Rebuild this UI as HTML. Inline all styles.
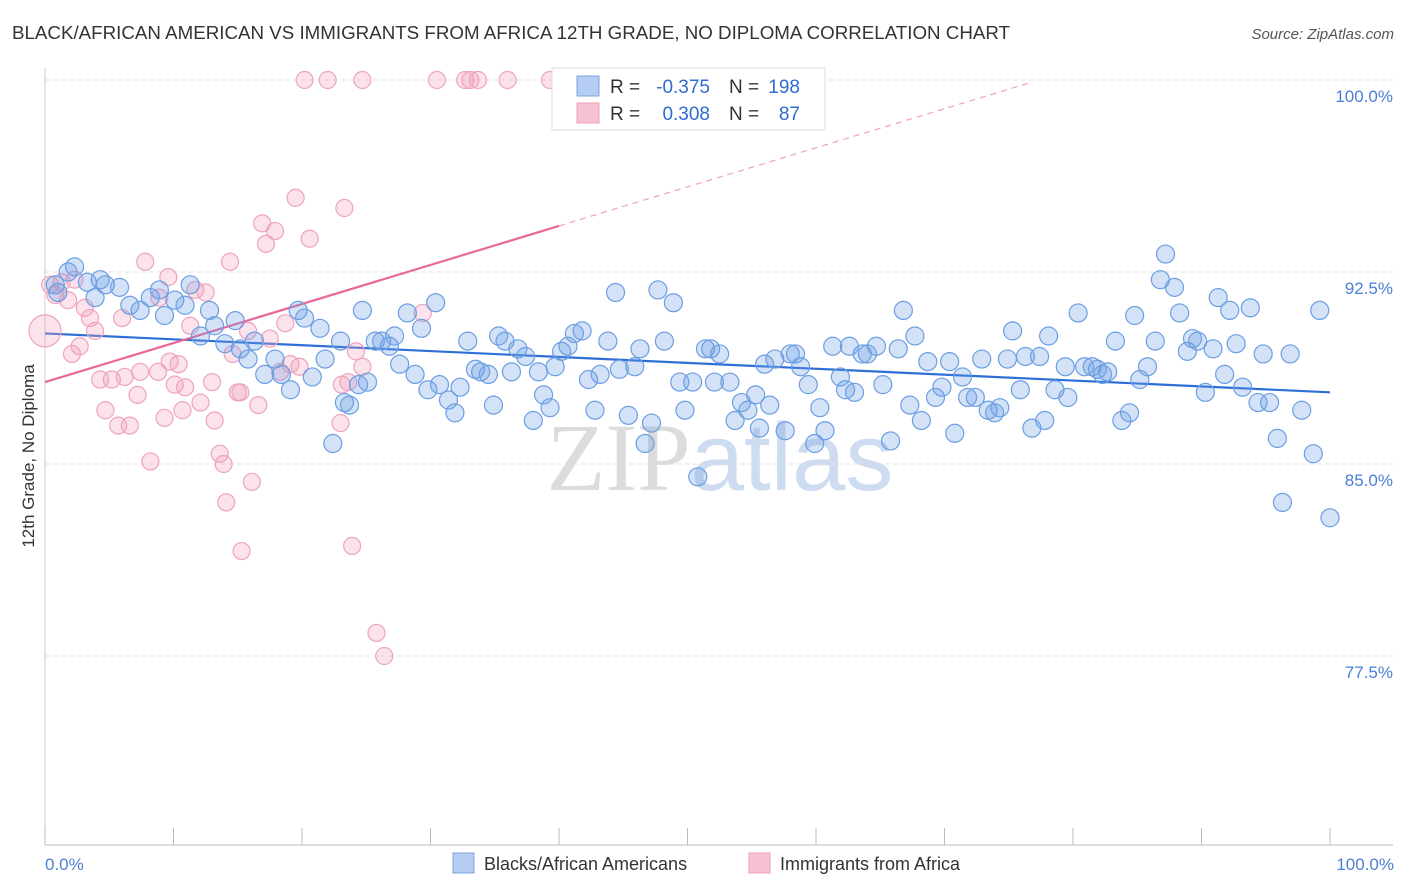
<!DOCTYPE html>
<html><head><meta charset="utf-8">
<style>
body{margin:0;background:#fff;font-family:"Liberation Sans",sans-serif;}
svg{display:block}
</style></head>
<body>
<svg id="chart" width="1406" height="892" xmlns="http://www.w3.org/2000/svg">
<text x="12" y="39" font-size="18" textLength="998" lengthAdjust="spacingAndGlyphs" fill="#333" font-family="Liberation Sans">BLACK/AFRICAN AMERICAN VS IMMIGRANTS FROM AFRICA 12TH GRADE, NO DIPLOMA CORRELATION CHART</text>
<text x="1394" y="39" font-size="15" fill="#555" font-style="italic" text-anchor="end">Source: ZipAtlas.com</text>
<text x="720" y="490" font-size="96" fill="#dfe6ef" text-anchor="middle" font-family="Liberation Serif"><tspan fill="#dcdcdc">ZIP</tspan><tspan fill="#cddcf0" font-family="Liberation Sans">atlas</tspan></text>
<g id="grid"></g>
<g id="axes"></g>
<g id="trends"></g>
<g id="pink-points"></g>
<g id="blue-points"></g>
<text transform="translate(34,456) rotate(-90)" font-size="17" fill="#333" text-anchor="middle">12th Grade, No Diploma</text>
<text x="45" y="870" font-size="17" fill="#4a7fd4">0.0%</text>
<text x="1394" y="870" font-size="17" fill="#4a7fd4" text-anchor="end">100.0%</text>
<g>
<rect x="552" y="68" width="273" height="62" fill="#fff" stroke="#ddd"/>
<rect x="577" y="76" width="22" height="20" fill="#b5cdf2" stroke="#7aa3e0"/>
<rect x="577" y="103" width="22" height="20" fill="#f7c3d3" stroke="#eca0b8"/>
<text x="610" y="93" font-size="19" fill="#333">R = </text>
<text x="710" y="93" font-size="19" fill="#2f6bd0" text-anchor="end">-0.375</text>
<text x="729" y="93" font-size="19" fill="#333">N = </text>
<text x="800" y="93" font-size="19" fill="#2f6bd0" text-anchor="end">198</text>
<text x="610" y="120" font-size="19" fill="#333">R = </text>
<text x="710" y="120" font-size="19" fill="#2f6bd0" text-anchor="end">0.308</text>
<text x="729" y="120" font-size="19" fill="#333">N = </text>
<text x="800" y="120" font-size="19" fill="#2f6bd0" text-anchor="end">87</text>
</g>
<g>
<rect x="453" y="853" width="21" height="20" fill="#b5cdf2" stroke="#7aa3e0"/>
<text x="484" y="870" font-size="18" fill="#333">Blacks/African Americans</text>
<rect x="749" y="853" width="21" height="20" fill="#f7c3d3" stroke="#eca0b8"/>
<text x="780" y="870" font-size="18" fill="#333">Immigrants from Africa</text>
</g>
</svg>
<script>
const yTicks=[100,92.5,85,77.5];
const yTickLabels=["100.0%","92.5%","85.0%","77.5%"];
const xTicks=[0,10,20,30,40,50,60,70,80,90,100];
const blueX=[2.3,1.8,0.8,1.0,3.3,4.3,4.7,3.9,5.8,6.6,7.4,8.2,8.9,9.3,10.1,10.9,11.3,12.1,12.8,13.2,14.0,14.8,15.2,15.8,16.3,17.1,17.9,18.4,19.1,19.7,20.2,20.8,21.4,21.8,22.4,23.0,23.3,23.7,24.4,24.7,25.1,25.7,26.2,26.8,27.2,27.6,28.2,28.8,29.3,29.8,30.4,30.7,31.4,31.9,32.3,32.9,33.5,33.9,34.5,34.9,35.3,35.8,36.3,36.8,37.4,38.0,38.4,38.8,39.3,39.7,40.2,40.7,41.2,41.8,42.3,42.8,43.2,43.8,44.4,44.7,45.4,45.9,46.3,46.7,47.2,47.7,48.2,48.9,49.4,49.8,50.4,50.8,51.4,51.8,52.1,52.5,53.3,53.7,54.2,54.7,55.3,55.6,56.0,56.4,56.8,57.6,58.0,58.4,58.8,59.4,59.9,60.3,60.7,61.3,61.9,62.3,62.6,63.0,63.6,64.0,64.7,65.2,65.8,66.4,66.8,67.3,67.7,68.2,68.7,69.3,69.8,70.4,70.8,71.4,71.8,72.4,72.9,73.4,73.9,74.3,74.9,75.3,75.9,76.3,76.8,77.4,77.8,78.1,78.6,79.4,79.6,80.4,80.9,81.5,81.9,82.3,82.7,83.3,83.8,84.4,84.8,85.2,85.8,86.4,86.8,87.2,87.9,88.3,88.9,89.3,89.7,90.3,90.9,91.3,91.8,92.2,92.7,93.2,93.8,94.4,94.8,95.3,95.9,96.3,96.9,97.8,98.7,99.2,100];
const blueY=[92.7,92.5,92.0,91.7,92.1,92.2,92.0,91.5,91.9,91.2,91.0,91.5,91.8,90.8,91.4,91.2,92.0,90.0,91.0,90.4,89.7,90.6,89.5,89.1,89.8,88.5,89.1,88.5,87.9,91.0,90.7,88.4,90.3,89.1,85.8,89.8,87.4,87.3,88.1,91.0,88.2,89.8,89.8,89.6,90.0,88.9,90.9,88.5,90.3,87.9,91.3,88.1,87.5,87.0,88.0,89.8,88.7,88.6,88.5,87.3,90.0,89.8,88.6,89.5,89.2,86.7,88.6,87.7,87.2,88.8,89.4,89.6,90.1,90.2,88.3,87.1,88.5,89.8,91.7,88.7,86.9,88.8,89.5,85.8,86.6,91.8,89.8,91.3,88.2,87.1,88.2,84.5,89.5,89.5,88.2,89.3,88.2,86.7,87.4,87.1,87.7,86.4,88.9,87.3,89.1,86.3,89.3,89.3,88.8,88.1,85.8,87.2,86.3,89.6,88.4,87.9,89.6,87.8,89.3,89.3,89.6,88.1,85.9,89.5,91.0,87.3,90.0,86.7,89.0,87.6,88.0,89.0,86.2,88.4,87.6,87.6,89.1,87.1,87.0,87.2,89.1,90.2,87.9,89.2,86.4,89.2,86.7,90.0,87.9,88.8,87.6,90.9,88.8,88.8,88.7,88.5,88.6,89.8,86.7,87.0,90.8,88.3,88.8,89.8,92.2,93.2,91.9,90.9,89.4,89.9,89.8,87.8,89.5,91.5,88.5,91.0,89.7,88.0,91.1,87.4,89.3,87.4,86.0,83.5,89.3,87.1,85.4,91.0,82.9];
const pinkX=[0,0.4,0.8,1.3,1.8,2.1,2.3,2.7,3.1,3.5,3.9,4.3,4.7,5.2,5.7,6.0,6.2,6.6,7.2,7.4,7.8,8.2,8.8,8.9,9.3,9.6,9.7,10.1,10.4,10.7,10.9,11.3,11.7,12.1,12.5,13.0,13.2,13.6,13.9,14.1,14.4,14.6,15.0,15.2,15.3,15.8,16.1,16.6,16.9,17.2,17.5,17.9,18.3,18.7,19.1,19.5,19.8,20.2,20.6,22.0,23.0,23.3,23.1,23.6,23.9,24.2,24.7,24.7,25.8,26.4,29.4,30.5,32.7,33.1,33.7,36.0,39.3];
const pinkY=[90.2,92.0,91.6,92.1,91.4,89.3,92.2,89.6,91.1,90.7,90.2,88.3,87.1,88.3,86.5,90.7,88.4,86.5,87.7,88.6,92.9,85.1,88.6,91.5,86.8,92.3,89.0,88.1,88.9,87.1,88.0,90.4,91.8,87.4,91.7,88.2,86.7,85.4,85.0,83.5,92.9,89.3,87.8,87.8,81.6,90.2,84.3,87.3,94.4,93.6,89.9,94.1,88.6,90.5,88.9,95.4,88.8,100,93.8,100,86.6,95.0,88.1,88.2,81.8,89.4,88.8,100,78.4,77.5,90.9,100,100,100,100,100,100];
const blueTrendX=[0,100], blueTrendY=[90.1,87.8];
const pinkTrendX=[0,40,76.7], pinkTrendY=[88.2,94.3,99.9];

const NS="http://www.w3.org/2000/svg";
const X0=45,X1=1330,Y100=80,PXPER=25.6;
const sx=v=>X0+(X1-X0)*v/100;
const sy=v=>Y100+(100-v)*PXPER;
function mk(tag,attrs,parent){const e=document.createElementNS(NS,tag);for(const k in attrs)e.setAttribute(k,attrs[k]);parent.appendChild(e);return e;}
const grid=document.getElementById('grid');
yTicks.forEach((t,i)=>{
  const l=mk('line',{x1:45,x2:1393,y1:sy(t),y2:sy(t),stroke:'#ddd','stroke-dasharray':'4,4'},grid);
  
  
  const tx=mk('text',{x:1393,y:sy(t)+22,'font-size':17,fill:'#4a7fd4','text-anchor':'end'},grid);
  tx.textContent=yTickLabels[i];
  
  
});
const axes=document.getElementById('axes');
const ya=mk('line',{x1:45,x2:45,y1:68,y2:845,stroke:'#ccc'},axes);


const xa=mk('line',{x1:45,x2:1393,y1:845,y2:845,stroke:'#bbb'},axes);


xTicks.forEach(t=>{
  const k=mk('line',{x1:sx(t),x2:sx(t),y1:828,y2:845,stroke:'#bbb'},axes);
  
  
});
const trends=document.getElementById('trends');
const bt=mk('line',{x1:sx(blueTrendX[0]),y1:sy(blueTrendY[0]),x2:sx(blueTrendX[1]),y2:sy(blueTrendY[1]),stroke:'#2d6fd6','stroke-width':2.2},trends);


const pt=mk('line',{x1:sx(pinkTrendX[0]),y1:sy(pinkTrendY[0]),x2:sx(pinkTrendX[1]),y2:sy(pinkTrendY[1]),stroke:'#e8689a','stroke-width':2.2},trends);


const pd=mk('line',{x1:sx(pinkTrendX[1]),y1:sy(pinkTrendY[1]),x2:sx(pinkTrendX[2]),y2:sy(pinkTrendY[2]),stroke:'#eea0bd','stroke-width':1.2,'stroke-dasharray':'6,5'},trends);


const pg=document.getElementById('pink-points');
pinkX.forEach((x,i)=>{
  const c=mk('circle',{cx:sx(x),cy:sy(pinkY[i]),r:i===0?16:8.5,fill:'rgba(242,160,190,0.3)',stroke:'#efa3bd','stroke-width':1.2},pg);
  
  
});
const bg=document.getElementById('blue-points');
blueX.forEach((x,i)=>{
  const c=mk('circle',{cx:sx(x),cy:sy(blueY[i]),r:9,fill:'rgba(110,160,230,0.3)',stroke:'#6b9ee3','stroke-width':1.2},bg);
  
  
});
</script>
</body></html>
